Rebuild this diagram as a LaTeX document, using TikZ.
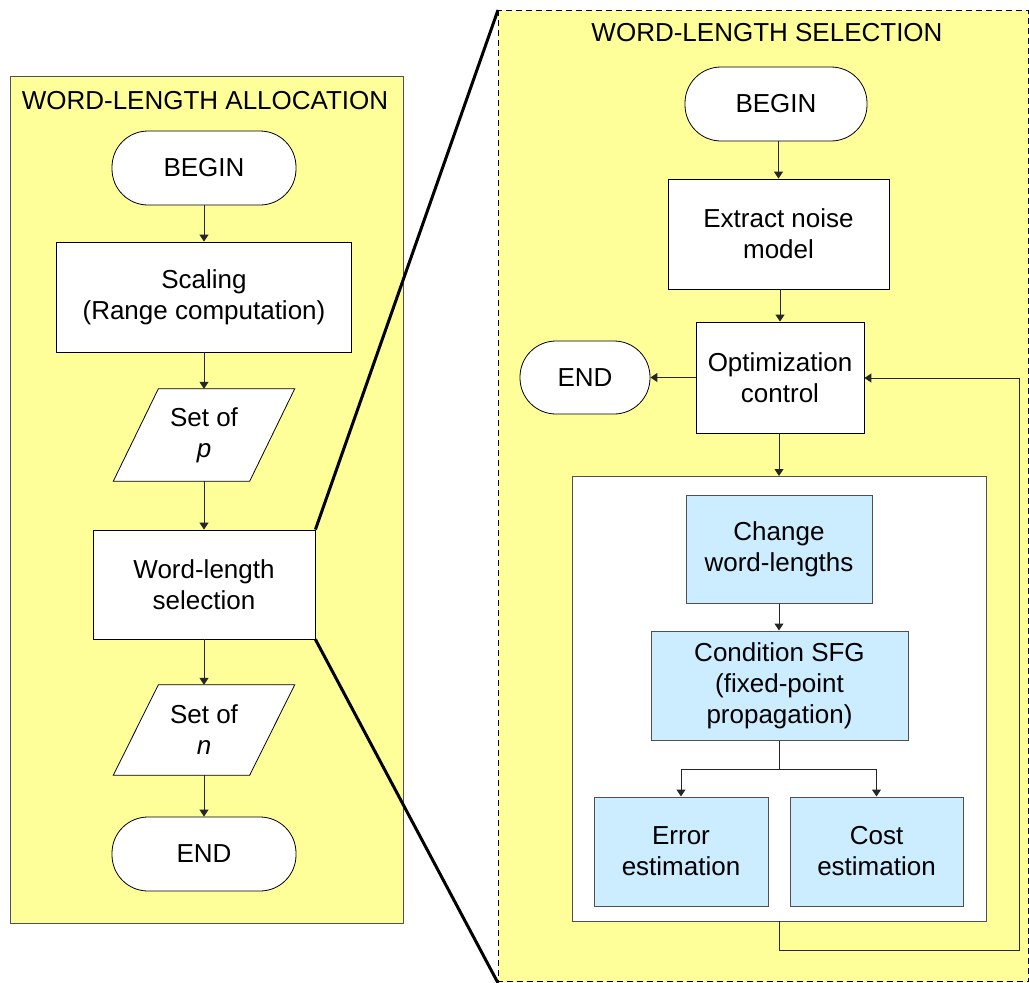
\documentclass[tikz,border=0pt]{standalone}
\usepackage{fontspec}
\setmainfont{Liberation Sans}
\usetikzlibrary{arrows.meta}
\definecolor{panelyellow}{RGB}{255,255,153}
\definecolor{boxblue}{RGB}{204,236,255}
\definecolor{edgegray}{RGB}{80,80,80}
\pgfdeclarelayer{panel}
\pgfdeclarelayer{shape}
\pgfsetlayers{panel,shape,main}
\begin{document}
\begin{tikzpicture}[x=1pt,y=-1pt,
  font=\fontsize{26}{31}\selectfont,
  every node/.style={inner sep=0pt, align=center},
  term/.style={draw=black, fill=white, line width=0.8pt, rounded corners=36pt, minimum width=184pt, minimum height=74pt},
  proc/.style={draw=black, fill=white, line width=0.8pt},
  bluebox/.style={draw=edgegray, fill=boxblue, line width=1pt},
  arr/.style={draw=black!85, line width=1pt, -{Triangle[width=9pt,length=7pt]}},
  ln/.style={draw=black!85, line width=1pt},
  thick link/.style={draw=black, line width=3pt},
  ttl/.style={font=\fontsize{26}{31}\selectfont}
]
\useasboundingbox (0,0) rectangle (1029,983);

% panels
\begin{pgfonlayer}{panel}
  \fill[white] (0,0) rectangle (1029,983);
  \draw[fill=panelyellow, draw=black, dashed, dash pattern=on 6pt off 4pt, line width=1pt] (498,10) rectangle (1028.5,981.5);
  \draw[fill=panelyellow, draw=edgegray, line width=1pt] (10,76) rectangle (403,923);
\end{pgfonlayer}

\node[ttl] (ltitle) at (205,101) {WORD-LENGTH ALLOCATION};
\node[ttl] (rtitle) at (767,33) {WORD-LENGTH SELECTION};

% left flow
\node[term] (lbegin) at (204,168) {BEGIN};
\node[proc, minimum width=295pt, minimum height=110pt] (scal) at (204,297) {Scaling\\(Range computation)};
\node[minimum width=136pt, minimum height=92pt] (setp) at (204,435) {Set of\\\textit{p}};
\node[proc, minimum width=222pt, minimum height=109pt] (sel) at (204,584.5) {Word-length\\selection};
\node[minimum width=136pt, minimum height=90pt] (setn) at (204,730) {Set of\\\textit{n}};
\node[term] (lend) at (204,854) {END};

\begin{pgfonlayer}{shape}
  \draw[fill=white, draw=black, line width=0.8pt]
    ([xshift=22.5pt]setp.north west) -- ([xshift=22.5pt]setp.north east)
    -- ([xshift=-22.5pt]setp.south east) -- ([xshift=-22.5pt]setp.south west) -- cycle;
  \draw[fill=white, draw=black, line width=0.8pt]
    ([xshift=22.5pt]setn.north west) -- ([xshift=22.5pt]setn.north east)
    -- ([xshift=-22.5pt]setn.south east) -- ([xshift=-22.5pt]setn.south west) -- cycle;
  % inner white box
  \draw[fill=white, draw=edgegray, line width=1pt] (572,476) rectangle (986,921);
\end{pgfonlayer}
\coordinate (innertop) at (779,476);
\coordinate (innerbot) at (779,921);

\draw[arr] (lbegin) -- (scal);
\draw[arr] (scal) -- (setp);
\draw[arr] (setp) -- (sel);
\draw[arr] (sel) -- (setn);
\draw[arr] (setn) -- (lend);

% zoom lines
\coordinate (pt) at (498,10);
\coordinate (pb) at (498,983);
\draw[thick link] (sel.north east) -- (pt);
\draw[thick link] (sel.south east) -- (pb);

% right flow
\node[term, minimum width=182pt] (rbegin) at (776,104) {BEGIN};
\node[proc, minimum width=221pt, minimum height=110pt] (ext) at (778.5,234) {Extract noise\\model};
\node[proc, minimum width=168pt, minimum height=111pt] (opt) at (780,377.5) {Optimization\\control};
\node[term, minimum width=130pt, minimum height=73pt] (rend) at (585,377.5) {END};
\node[bluebox, minimum width=186pt, minimum height=108pt] (chg) at (779,549) {Change\\word-lengths};
\node[bluebox, minimum width=257pt, minimum height=109pt] (cond) at (779.5,685.5) {Condition SFG\\(fixed-point\\propagation)};
\node[bluebox, minimum width=174pt, minimum height=109pt] (err) at (681,851.5) {Error\\estimation};
\node[bluebox, minimum width=173pt, minimum height=109pt] (cost) at (876.5,851.5) {Cost\\estimation};

\draw[arr] (rbegin.south -| ext.north) -- (ext.north);
\draw[arr] (ext.south -| opt.north) -- (opt.north);
\draw[arr] (opt.west) -- (opt.west -| rend.east);
\draw[arr] (opt.south -| innertop) -- (innertop);
\draw[arr] (chg) -- (chg.south |- cond.north);
\coordinate (split) at (779,769);
\draw[ln] (cond.south -| split) -- (split);
\draw[arr] (split) -| (err.north);
\draw[arr] (split) -| (cost.north);
\coordinate (loopa) at (779,950);
\coordinate (loopb) at (1019,950);
\coordinate (loopc) at (1019,378);
\draw[arr] (innerbot) -- (loopa) -- (loopb) -- (loopc) -- (opt.east |- loopc);
\end{tikzpicture}
\end{document}
